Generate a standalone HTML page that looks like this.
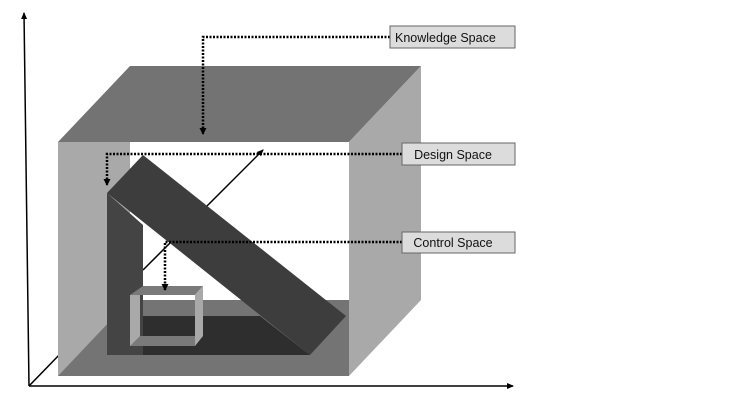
<!DOCTYPE html>
<html><head><meta charset="utf-8"><style>
html,body{margin:0;padding:0;background:#fff;}
svg{display:block;}
text{font-family:"Liberation Sans",sans-serif;font-size:12.5px;fill:#111;}
</style></head><body>
<svg width="742" height="409" viewBox="0 0 742 409" xmlns="http://www.w3.org/2000/svg">
<defs>
<marker id="ah" markerWidth="8" markerHeight="8" refX="6" refY="4" orient="auto" markerUnits="userSpaceOnUse"><path d="M0,1 L7,4 L0,7 z" fill="#000"/></marker>
<marker id="ad" markerWidth="8" markerHeight="8" refX="6" refY="4" orient="auto" markerUnits="userSpaceOnUse"><path d="M0,0.5 L7,4 L0,7.5 z" fill="#000"/></marker>
</defs>
<line x1="29" y1="386" x2="24" y2="13" stroke="#000" stroke-width="1.5" marker-end="url(#ah)"/>
<line x1="29" y1="386" x2="513" y2="386" stroke="#000" stroke-width="1.5" marker-end="url(#ah)"/>
<line x1="29" y1="386" x2="62" y2="352" stroke="#000" stroke-width="1.5"/>
<rect x="130" y="142" width="219" height="158" fill="#fff"/>
<polygon points="58,142 130,66 421,66 349,142" fill="#737373"/>
<polygon points="349,142 421,66 421,300 349,376" fill="#a9a9a9"/>
<rect x="58" y="142" width="72" height="234" fill="#a9a9a9"/>
<polygon points="58,376 130,300 349,300 349,376" fill="#747474"/>
<line x1="143" y1="270" x2="263" y2="150" stroke="#000" stroke-width="1.5" marker-end="url(#ah)"/>
<polygon points="107,355 143,316 260,316 310,355" fill="#2e2e2e"/>
<polygon points="107,193 143,225 143,355 107,355" fill="#444"/>
<polygon points="107,193 143,155 346,316 310,355" fill="#3d3d3d"/>
<!-- small box frame (transparent interior) -->
<polygon points="130,295 143,286 203,286 195,295" fill="#7a7a7a"/>
<polygon points="195,295 203,286 203,336 195,346" fill="#a9a9a9"/>
<rect x="130" y="295" width="10" height="51" fill="#a9a9a9"/>
<polygon points="130,346 140,336 195,336 195,346" fill="#7a7a7a"/>
<g stroke="#000" stroke-width="2.5" stroke-dasharray="2,1.5" fill="none">
<polyline points="390,37 203,37 203,134" marker-end="url(#ad)"/>
<polyline points="402,154 107,154 107,185" marker-end="url(#ad)"/>
<polyline points="402,242 165,242 165,290" marker-end="url(#ad)"/>
</g>
<g stroke="#666" stroke-width="1" fill="#dcdcdc">
<rect x="390" y="26" width="125" height="22"/>
<rect x="402" y="143" width="113" height="22"/>
<rect x="402" y="232" width="113" height="21"/>
</g>
<text x="395" y="42">Knowledge Space</text>
<text x="453" y="159" text-anchor="middle">Design Space</text>
<text x="453" y="247" text-anchor="middle">Control Space</text>
</svg>
</body></html>
